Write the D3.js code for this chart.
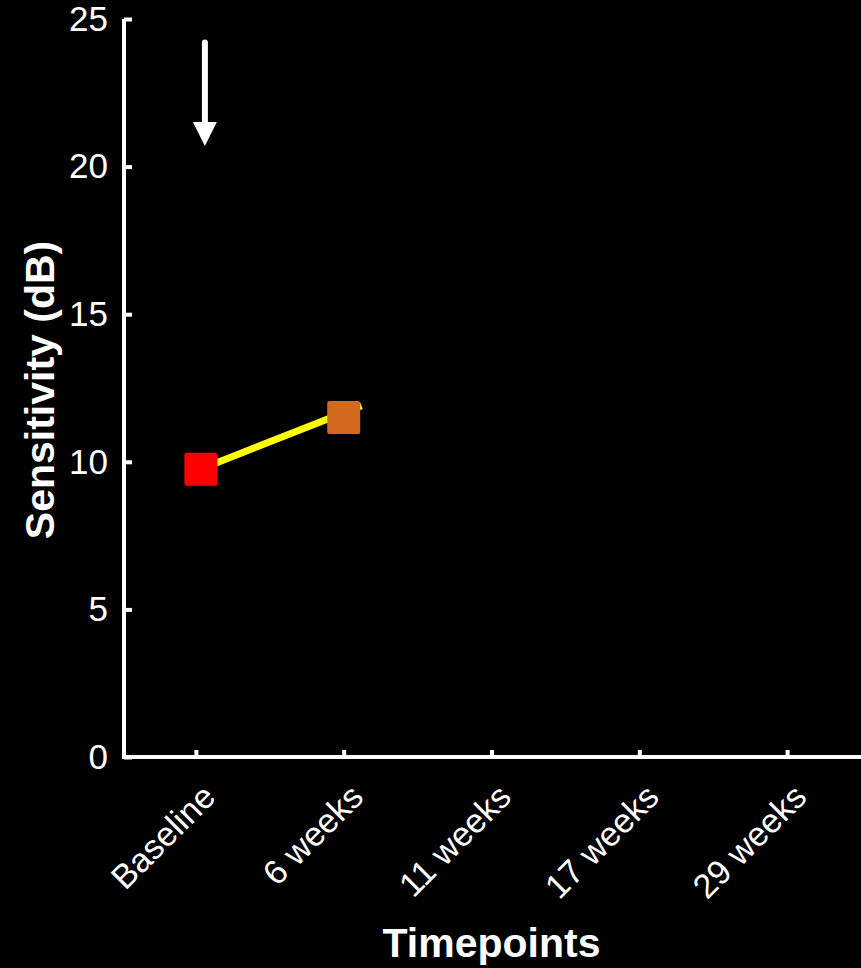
<!DOCTYPE html>
<html><head><meta charset="utf-8">
<script src="https://cdn.jsdelivr.net/npm/d3@7"></script>
<style>html,body{margin:0;padding:0;background:#000;}svg{display:block;}</style>
</head><body>
<script>
const timepoints = ["Baseline", "6 weeks", "11 weeks", "17 weeks", "29 weeks"];
const yTicks = [0, 5, 10, 15, 20, 25];
const pointTimes = ["Baseline", "6 weeks"];
const pointValues = [9.75, 11.5];
const pointColors = ["#ff0000", "#d2691e"];
const lineValues = [9.75, 11.9];   // trend segment: Baseline -> a bit past 6 weeks
const lineSpan = [0.03, 1.12];      // in step units
const arrowTime = "Baseline";
const arrowFrom = 24.2, arrowTo = 20.7;

const W = 861, H = 968;
const svg = d3.select("body").append("svg").attr("width", W).attr("height", H).style("background", "#000");
const x = d3.scalePoint().domain(timepoints).range([122, 861]).padding(0.5);
const y = d3.scaleLinear().domain([0, 25]).range([757, 19]);
const step = x.step();
const font = "Arial, 'Liberation Sans', Helvetica, sans-serif";

// Y axis
const yAx = svg.append("g").attr("transform", "translate(124,0)")
  .call(d3.axisLeft(y).tickValues(yTicks).tickSize(-8).tickPadding(16));
yAx.select(".domain").attr("stroke", "#fff").attr("stroke-width", 4).attr("d", `M0,${y(25)}V${y(0)+2}`);
yAx.selectAll(".tick line").attr("stroke", "#fff").attr("stroke-width", 4);
yAx.selectAll(".tick text").attr("fill", "#fff").style("font-family", font).style("font-size", "35px");

// X axis
const xAx = svg.append("g").attr("transform", `translate(0,${y(0)})`)
  .call(d3.axisBottom(x).tickSize(-7).tickPadding(0));
xAx.select(".domain").attr("stroke", "#fff").attr("stroke-width", 4).attr("d", `M122,0H861`);
xAx.selectAll(".tick line").attr("stroke", "#fff").attr("stroke-width", 4);
xAx.selectAll(".tick text").attr("fill", "#fff").style("font-family", font).style("font-size", "34px")
  .attr("text-anchor", "end").attr("dy", null).attr("y", null)
  .attr("transform", "translate(21,42) rotate(-45)");

// Axis titles
svg.append("text").attr("transform", `translate(54,${(y(0)+y(25))/2 + 2}) rotate(-90)`)
  .attr("text-anchor", "middle").attr("fill", "#fff").style("font-family", font)
  .style("font-size", "41px").style("font-weight", "bold").text("Sensitivity (dB)");
svg.append("text").attr("x", (122+861)/2).attr("y", 957)
  .attr("text-anchor", "middle").attr("fill", "#fff").style("font-family", font)
  .style("font-size", "41px").style("font-weight", "bold").text("Timepoints");

// Trend line
const x0 = x(timepoints[0]);
svg.append("line")
  .attr("x1", x0 + lineSpan[0]*step).attr("y1", y(lineValues[0]))
  .attr("x2", x0 + lineSpan[1]*step).attr("y2", y(lineValues[1]))
  .attr("stroke", "#ffff00").attr("stroke-width", 7);

// Markers
const sz = 33;
const offs = [5, 0];
svg.selectAll("rect.pt").data(pointValues).join("rect").attr("class", "pt")
  .attr("x", (d,i) => x(pointTimes[i]) + offs[i] - sz/2)
  .attr("y", d => y(d) - sz/2)
  .attr("width", sz).attr("height", sz).attr("rx", 2)
  .attr("fill", (d,i) => pointColors[i]);

// Arrow
const ax = x(arrowTime) + 9;
svg.append("line").attr("x1", ax).attr("x2", ax).attr("y1", y(arrowFrom)).attr("y2", y(arrowTo) - 18)
  .attr("stroke", "#fff").attr("stroke-width", 6).attr("stroke-linecap", "round");
svg.append("path")
  .attr("d", `M${ax-12},${y(arrowTo)-24}L${ax+12},${y(arrowTo)-24}L${ax},${y(arrowTo)}Z`)
  .attr("fill", "#fff");
</script>
</body></html>
